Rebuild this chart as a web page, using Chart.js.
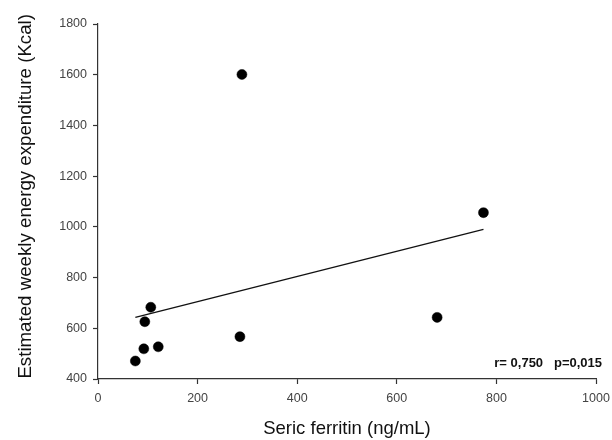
<!DOCTYPE html>
<html>
<head>
<meta charset="utf-8">
<script src="https://cdn.jsdelivr.net/npm/chart.js@4"></script>
<style>
  html, body { margin: 0; padding: 0; background: #fff; }
  #wrap { width: 612px; height: 440px; }
</style>
</head>
<body>
<div id="wrap"><canvas id="c" width="612" height="440"></canvas></div>
<script>
const ferritin = [75, 92, 94, 106, 121, 285, 289, 681, 774];
const energy = [471, 519, 626, 683, 527, 567, 1601, 643, 1056];
const fitX = [75, 774];
const fitY = [643, 990];
const xTicks = [0, 200, 400, 600, 800, 1000];
const yTicks = [400, 600, 800, 1000, 1200, 1400, 1600, 1800];
const xTitle = 'Seric ferritin (ng/mL)';
const yTitle = 'Estimated weekly energy expenditure (Kcal)';
const statsText = 'r= 0,750   p=0,015';

const scatterData = ferritin.map((x, i) => ({ x: x, y: energy[i] }));
const fitData = fitX.map((x, i) => ({ x: x, y: fitY[i] }));

const annot = {
  id: 'annot',
  afterDatasetsDraw(chart) {
    const ctx = chart.ctx;
    const xs = chart.scales.x, ys = chart.scales.y;
    ctx.save();
    ctx.font = 'bold 13px "Liberation Sans", Arial, sans-serif';
    ctx.fillStyle = '#111';
    ctx.textAlign = 'right';
    ctx.textBaseline = 'middle';
    ctx.fillText(statsText, xs.right + 6, ys.bottom - 16);
    ctx.restore();
  }
};

Chart.defaults.font.family = '"Liberation Sans", Arial, sans-serif';

new Chart(document.getElementById('c'), {
  type: 'scatter',
  data: {
    datasets: [
      {
        data: scatterData,
        backgroundColor: '#000',
        borderColor: '#000',
        borderWidth: 0.5,
        pointRadius: 5,
        pointHoverRadius: 5
      },
      {
        type: 'line',
        data: fitData,
        borderColor: '#111',
        borderWidth: 1.3,
        pointRadius: 0,
        fill: false,
        tension: 0
      }
    ]
  },
  options: {
    responsive: false,
    animation: false,
    devicePixelRatio: 1,
    layout: { padding: { top: 24, right: 16, left: 0, bottom: 0 } },
    plugins: { legend: { display: false }, tooltip: { enabled: false } },
    scales: {
      x: {
        type: 'linear',
        min: 0, max: 1000,
        afterBuildTicks: (s) => { s.ticks = xTicks.map(v => ({ value: v })); },
        afterFit: (s) => { s.height = 61; s.paddingLeft = 0; s.paddingRight = 0; },
        border: { display: true, color: '#333', width: 1.2 },
        grid: { display: true, drawOnChartArea: false, drawTicks: true, tickLength: 5, tickColor: '#333', tickWidth: 1.2 },
        ticks: { color: '#444', font: { size: 12.5 }, padding: 7, maxRotation: 0, callback: (v) => String(v) },
        title: { display: true, text: xTitle, color: '#111', font: { size: 18.5 }, padding: { top: 0, bottom: 0 } }
      },
      y: {
        type: 'linear',
        min: 400, max: 1800,
        afterBuildTicks: (s) => { s.ticks = yTicks.map(v => ({ value: v })); },
        afterFit: (s) => { s.width = 98; s.paddingTop = 0; s.paddingBottom = 0; },
        border: { display: true, color: '#333', width: 1.2 },
        grid: { display: true, drawOnChartArea: false, drawTicks: true, tickLength: 5, tickColor: '#333', tickWidth: 1.2 },
        ticks: { color: '#444', font: { size: 12.5 }, padding: 6, callback: (v) => String(v) },
        title: { display: true, text: '  ' + yTitle, color: '#111', font: { size: 18.7 }, padding: { top: 15, bottom: 0 } }
      }
    }
  },
  plugins: [annot]
});
</script>
</body>
</html>
